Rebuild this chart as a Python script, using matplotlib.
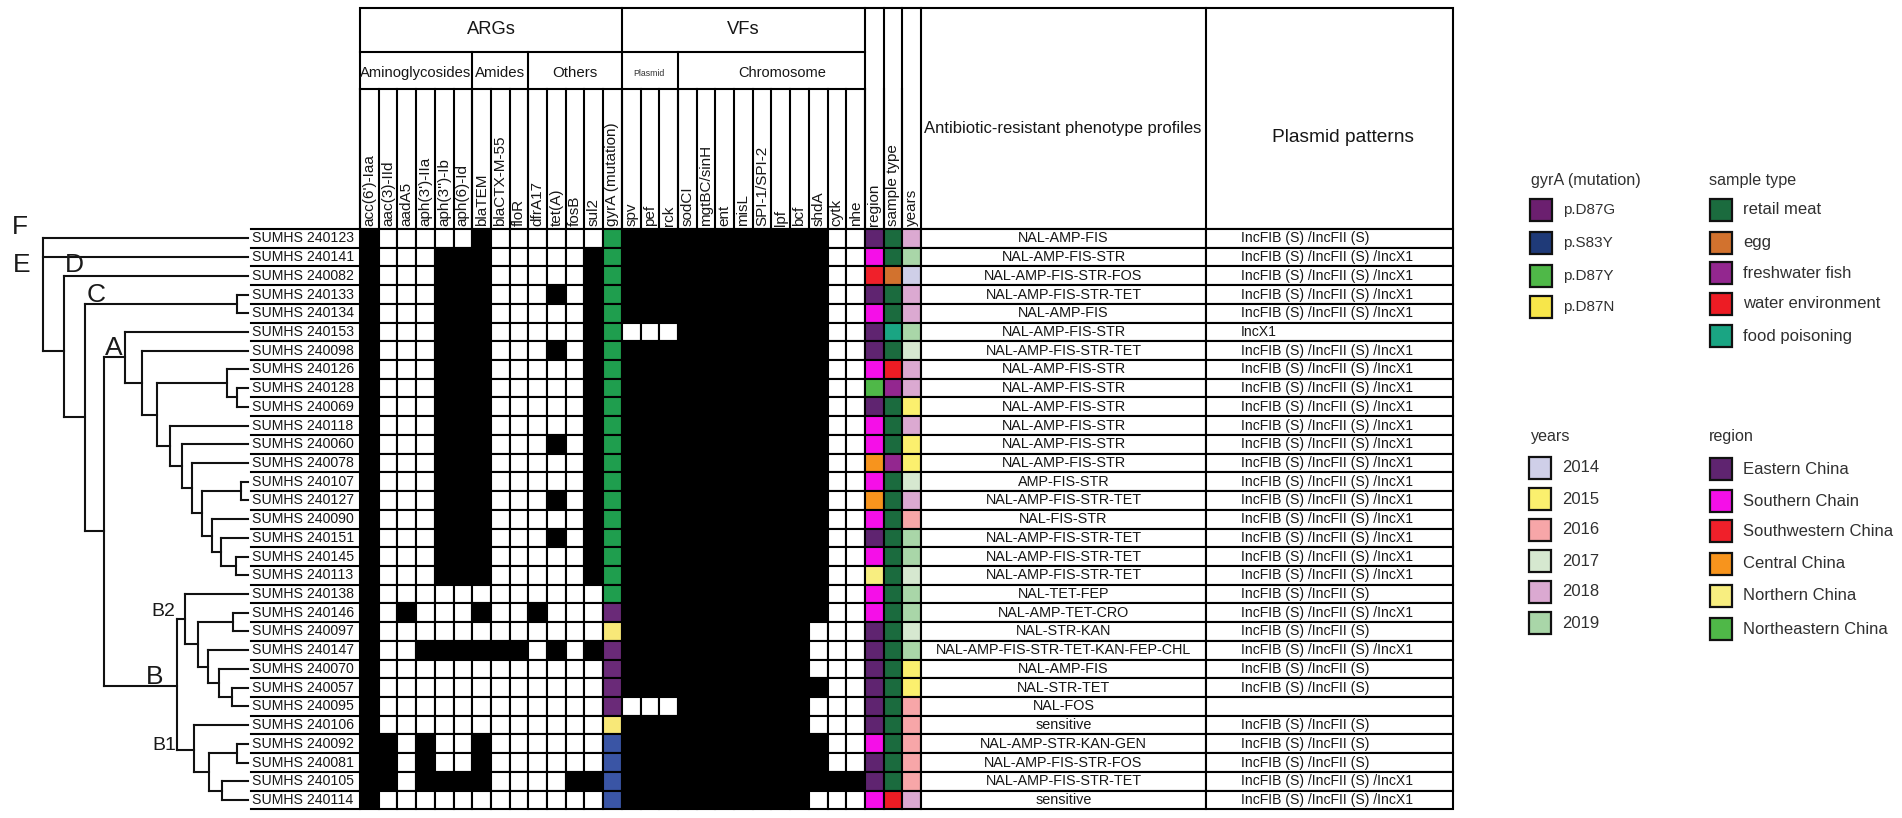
"""Heatmap table of isolates with tree, ARG/VF presence and metadata strips."""
import matplotlib

matplotlib.use("Agg")
import matplotlib.pyplot as plt  # noqa: E402
from matplotlib.patches import Rectangle  # noqa: E402

plt.rcParams["font.family"] = ["Liberation Sans", "DejaVu Sans"]

ISOLATES = ["240123", "240141", "240082", "240133", "240134", "240153", "240098", "240126",
            "240128", "240069", "240118", "240060", "240078", "240107", "240127", "240090",
            "240151", "240145", "240113", "240138", "240146", "240097", "240147", "240070",
            "240057", "240095", "240106", "240092", "240081", "240105", "240114"]

ARG_COLS = ["acc(6')-Iaa", "aac(3)-IId", "aadA5", "aph(3')-IIa", "aph(3'')-Ib", "aph(6)-Id",
            "blaTEM", "blaCTX-M-55", "floR", "dfrA17", "tet(A)", "fosB", "sul2"]
VF_COLS = ["spv", "pef", "rck", "sodCI", "mgtBC/sinH", "ent", "misL", "SPI-1/SPI-2",
           "lpf", "bcf", "shdA", "cytk", "nhe"]

ARG_ROWS = ["1000001000000", "1000111000001", "1000111000001", "1000111000101",
            "1000111000001", "1000111000001", "1000111000101", "1000111000001",
            "1000111000001", "1000111000001", "1000111000001", "1000111000101",
            "1000111000001", "1000111000001", "1000111000101", "1000111000001",
            "1000111000101", "1000111000001", "1000111000001", "1000000000000",
            "1010001001000", "1000000000000", "1001111110101", "1000000000000",
            "1000000000000", "1000000000000", "1000000000000", "1101001000000",
            "1101001000000", "1101111000011", "1000000000000"]
VF_ROWS = ["1111111111100"] * 5 + ["0001111111100"] + ["1111111111100"] * 15 + [
    "1111111111000", "1111111111000", "1111111111000", "1111111111100", "0001111111000",
    "1111111111000", "1111111111100", "1111111111100", "1111111111111", "1111111111000"]

GYRA = ["p.D87Y"] * 20 + ["p.D87G", "p.D87N", "p.D87G", "p.D87G", "p.D87G", "p.D87G",
                          "p.D87N", "p.S83Y", "p.S83Y", "p.S83Y", "p.S83Y"]
REGION = ["E", "S", "SW", "E", "S", "E", "E", "S", "NE", "E", "S", "S", "C", "S", "C", "S",
          "E", "S", "N", "S", "S", "E", "E", "E", "E", "E", "E", "S", "E", "E", "S"]
SAMPLE = ["retail", "retail", "egg", "retail", "retail", "food", "retail", "water", "fish",
          "retail", "retail", "retail", "fish"] + ["retail"] * 17 + ["water"]
YEARS = [2018, 2019, 2014, 2018, 2018, 2019, 2017, 2018, 2018, 2015, 2018, 2015, 2015, 2017,
         2018, 2016, 2019, 2019, 2017, 2019, 2019, 2017, 2019, 2015, 2015, 2016, 2016, 2016,
         2016, 2016, 2018]

PHENOTYPES = ["NAL-AMP-FIS", "NAL-AMP-FIS-STR", "NAL-AMP-FIS-STR-FOS", "NAL-AMP-FIS-STR-TET",
              "NAL-AMP-FIS", "NAL-AMP-FIS-STR", "NAL-AMP-FIS-STR-TET", "NAL-AMP-FIS-STR",
              "NAL-AMP-FIS-STR", "NAL-AMP-FIS-STR", "NAL-AMP-FIS-STR", "NAL-AMP-FIS-STR",
              "NAL-AMP-FIS-STR", "AMP-FIS-STR", "NAL-AMP-FIS-STR-TET", "NAL-FIS-STR",
              "NAL-AMP-FIS-STR-TET", "NAL-AMP-FIS-STR-TET", "NAL-AMP-FIS-STR-TET", "NAL-TET-FEP",
              "NAL-AMP-TET-CRO", "NAL-STR-KAN", "NAL-AMP-FIS-STR-TET-KAN-FEP-CHL", "NAL-AMP-FIS",
              "NAL-STR-TET", "NAL-FOS", "sensitive", "NAL-AMP-STR-KAN-GEN", "NAL-AMP-FIS-STR-FOS",
              "NAL-AMP-FIS-STR-TET", "sensitive"]

P2 = "IncFIB (S) /IncFII (S)"
P3 = "IncFIB (S) /IncFII (S) /IncX1"
PLASMIDS = [P2, P3, P3, P3, P3, "IncX1"] + [P3] * 13 + [P2, P3, P2, P3, P2, P2, "", P2, P2, P2,
                                                        P3, P3]

GYRA_LEGEND = ["p.D87G", "p.S83Y", "p.D87Y", "p.D87N"]
GYRA_SWATCH = ["#6b1f6f", "#1f3a78", "#4fb848", "#f7e64a"]
SAMPLE_KEYS = ["retail", "egg", "fish", "water", "food"]
SAMPLE_LEGEND = ["retail meat", "egg", "freshwater fish", "water environment", "food poisoning"]
SAMPLE_COLORS = ["#1b6b3e", "#d2722e", "#93278f", "#ed1c24", "#1aa583"]
YEAR_LEGEND = [2014, 2015, 2016, 2017, 2018, 2019]
YEAR_COLORS = ["#cfcfe8", "#fbf06e", "#f7a6a8", "#d6e8d0", "#dba9d1", "#a9d6a8"]
REGION_KEYS = ["E", "S", "SW", "C", "N", "NE"]
REGION_LEGEND = ["Eastern China", "Southern Chain", "Southwestern China", "Central China",
                 "Northern China", "Northeastern China"]
REGION_COLORS = ["#5f2470", "#f50fe8", "#f0202a", "#f7941d", "#f8ee80", "#4fb848"]

# (node x, children[, y]) - an int child is a row of the table
CLADE_B2 = (185, [19, (198, [(233, [20, 21]),
                             (208, [22, (219, [23, (232, [24, 25])])])])])
CLADE_B1 = (194, [26, (209, [(237, [27, 28]), (222, [29, 30])])], 750)
CLADE_A = (125, [5, (142, [6, (157, [(227, [7, (237, [8, 9])]),
                                     (170, [10, (182, [11, (192, [12, (202, [(241, [13, 14]),
                                            (212, [15, (221, [16, (236, [17, 18])])])])])])])])])])
TREE = (43, [0, 1, (64, [2, (85, [(237, [3, 4]),
                                  (104, [CLADE_A, (177, [CLADE_B2, CLADE_B1], 686)], 531)])],
                    351)])

# layout, in pixels of the output image
W, H = 1902, 818
TOP, Y_ARG, Y_SUB, ROW_TOP = 8, 52, 89, 229
ROW_H = 18.72
COL_W = 18.7
X_LABEL, X_HEAT = 251, 360
LEAF_END = 248
X_GYRA = X_HEAT + COL_W * 13
X_VF = X_HEAT + COL_W * 14
X_META = X_VF + COL_W * 13
X_PHENO = X_META + COL_W * 3
X_PLASMID, X_END = 1206, 1453
GREEN_CELL = "#1f9e4e"
GYRA_COLORS = {"p.D87Y": GREEN_CELL, "p.D87G": "#6a2a78", "p.D87N": "#f8e878", "p.S83Y": "#3a55a5"}
LW = 1.5
INK = "#161616"


def row_y(i):
    return ROW_TOP + ROW_H * (i + 0.5)


def draw_tree(ax, node):
    """Draw a clade; returns the y of its stem."""
    if isinstance(node, int):
        return row_y(node)
    x, children = node[0], node[1]
    ys, xs = [], []
    for ch in children:
        ys.append(draw_tree(ax, ch))
        xs.append(LEAF_END if isinstance(ch, int) else ch[0])
    ax.plot([x, x], [min(ys), max(ys)], color="#111111", lw=LW, solid_capstyle="projecting")
    for cy, cx in zip(ys, xs):
        ax.plot([x, cx], [cy, cy], color="#111111", lw=LW, solid_capstyle="projecting")
    return node[2] if len(node) > 2 else (ys[0] + ys[-1]) / 2


def cell(ax, x, y, w, h, color):
    ax.add_patch(Rectangle((x, y), w, h, facecolor=color, edgecolor="black", lw=LW))


def swatches(ax, x, ys, labels, colors, fs=12):
    for y, lab, c in zip(ys, labels, colors):
        ax.add_patch(Rectangle((x, y - 11), 22, 22, facecolor=c, edgecolor="#111111", lw=1.6))
        ax.text(x + 33, y, str(lab), fontsize=fs, va="center", ha="left", color="#303030")


def main():
    fig = plt.figure(figsize=(W / 100, H / 100), dpi=100)
    ax = fig.add_axes([0, 0, 1, 1])
    ax.set_xlim(0, W)
    ax.set_ylim(H, 0)
    ax.axis("off")

    draw_tree(ax, TREE)
    for lab, x, y, fs in [("F", 20, 227, 19), ("E", 22, 265, 19), ("D", 74, 265, 19),
                          ("C", 96, 295, 19), ("A", 114, 348, 19), ("B", 155, 677, 19),
                          ("B2", 163, 612, 14), ("B1", 164, 746, 14)]:
        ax.text(x, y, lab, fontsize=fs, ha="center", va="center", color="#1a1a1a")

    # header boxes
    ax.add_patch(Rectangle((X_HEAT, TOP), X_END - X_HEAT, ROW_TOP - TOP, fill=False,
                           edgecolor="black", lw=LW))
    ax.plot([X_HEAT, X_META], [Y_ARG, Y_ARG], color="black", lw=LW)
    ax.plot([X_HEAT, X_META], [Y_SUB, Y_SUB], color="black", lw=LW)
    for x in [X_VF, X_META, X_META + COL_W, X_META + 2 * COL_W, X_PHENO, X_PLASMID]:
        ax.plot([x, x], [TOP, ROW_TOP], color="black", lw=LW)
    for ncol in [6, 9, 14 + 3]:
        x = X_HEAT + COL_W * ncol
        ax.plot([x, x], [Y_ARG, ROW_TOP], color="black", lw=LW)
    all_cols = ARG_COLS + ["gyrA (mutation)"] + VF_COLS + ["region", "sample type", "years"]
    for j, name in enumerate(all_cols):
        x = X_HEAT + COL_W * j
        ax.plot([x, x], [Y_SUB, ROW_TOP], color="black", lw=LW)
        ax.text(x + COL_W / 2, ROW_TOP - 3, name, rotation=90, ha="center", va="bottom",
                fontsize=11, color=INK)

    ax.text(491, 29, "ARGs", fontsize=13.2, ha="center", va="center", color=INK)
    ax.text(X_VF + 121, 29, "VFs", fontsize=13.2, ha="center", va="center", color=INK)
    ax.text(416, 73, "Aminoglycosides", fontsize=10.6, ha="center", va="center", color=INK)
    ax.text(500, 73, "Amides", fontsize=10.8, ha="center", va="center", color=INK)
    ax.text(575, 73, "Others", fontsize=10.8, ha="center", va="center", color=INK)
    ax.text(649, 73, "Plasmid", fontsize=6.3, ha="center", va="center", color="#333333")
    ax.text(782, 73, "Chromosome", fontsize=10.5, ha="center", va="center", color=INK)
    ax.text(1063, 129, "Antibiotic-resistant phenotype profiles", fontsize=12, ha="center",
            va="center", color=INK)
    ax.text(1343, 137, "Plasmid patterns", fontsize=13.8, ha="center", va="center", color=INK)

    year_map = dict(zip(YEAR_LEGEND, YEAR_COLORS))
    region_map = dict(zip(REGION_KEYS, REGION_COLORS))
    sample_map = dict(zip(SAMPLE_KEYS, SAMPLE_COLORS))

    for i, iso in enumerate(ISOLATES):
        y0 = ROW_TOP + ROW_H * i
        yc = row_y(i)
        ax.plot([X_LABEL, X_HEAT], [y0, y0], color="black", lw=LW)
        ax.text(X_LABEL + 1, yc, f"SUMHS {iso}", fontsize=10.2, va="center", ha="left", color=INK)
        for j, on in enumerate(ARG_ROWS[i]):
            cell(ax, X_HEAT + COL_W * j, y0, COL_W, ROW_H, "black" if on == "1" else "white")
        cell(ax, X_GYRA, y0, COL_W, ROW_H, GYRA_COLORS[GYRA[i]])
        for j, on in enumerate(VF_ROWS[i]):
            cell(ax, X_VF + COL_W * j, y0, COL_W, ROW_H, "black" if on == "1" else "white")
        cell(ax, X_META, y0, COL_W, ROW_H, region_map[REGION[i]])
        cell(ax, X_META + COL_W, y0, COL_W, ROW_H, sample_map[SAMPLE[i]])
        cell(ax, X_META + 2 * COL_W, y0, COL_W, ROW_H, year_map[YEARS[i]])
        cell(ax, X_PHENO, y0, X_PLASMID - X_PHENO, ROW_H, "white")
        cell(ax, X_PLASMID, y0, X_END - X_PLASMID, ROW_H, "white")
        ax.text((X_PHENO + X_PLASMID) / 2, yc, PHENOTYPES[i], fontsize=10.4, ha="center",
                va="center", color=INK)
        ax.text(1241, yc, PLASMIDS[i], fontsize=10.1, ha="left", va="center", color=INK)
    yb = ROW_TOP + ROW_H * len(ISOLATES)
    ax.plot([X_LABEL, X_HEAT], [yb, yb], color="black", lw=LW)

    # legends
    ax.text(1531, 180, "gyrA (mutation)", fontsize=11.6, va="center", color="#303030")
    swatches(ax, 1530, [210, 243, 276, 307], GYRA_LEGEND, GYRA_SWATCH, fs=11)
    ax.text(1709, 180, "sample type", fontsize=11.6, va="center", color="#303030")
    swatches(ax, 1710, [210, 243, 273, 304, 336], SAMPLE_LEGEND, SAMPLE_COLORS)
    ax.text(1531, 437, "years", fontsize=11.6, va="center", color="#303030")
    swatches(ax, 1529, [468, 499, 530, 561, 592, 623], YEAR_LEGEND, YEAR_COLORS)
    ax.text(1709, 437, "region", fontsize=11.6, va="center", color="#303030")
    swatches(ax, 1710, [469, 501, 531, 564, 596, 629], REGION_LEGEND, REGION_COLORS)

    fig.savefig("out.png", dpi=100, facecolor="white")
    plt.close(fig)


if __name__ == "__main__":
    main()
